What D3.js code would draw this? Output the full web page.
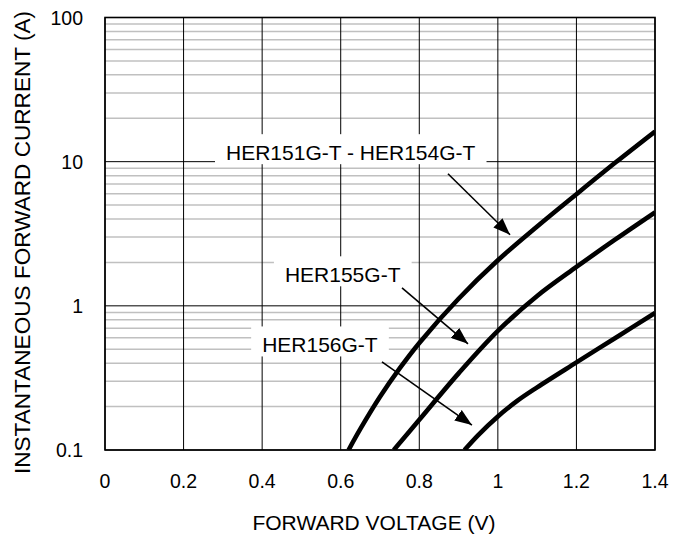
<!DOCTYPE html>
<html>
<head><meta charset="utf-8"/>
<script src="https://d3js.org/d3.v7.min.js"></script>
<style>
body{margin:0;background:#fff;}
svg{font-family:"Liberation Sans", Arial, sans-serif;}
.minor{stroke:#c0c0c0;stroke-width:1.5;}
.major{stroke:#000;stroke-width:1;}
.curve{fill:none;stroke:#000;stroke-width:4.6;}
.arrow{stroke:#000;stroke-width:1.6;}
</style>
</head>
<body>
<div id="chart"></div>
<script>

// curves (volts, amps)
var seriesNames = ["HER151G-T - HER154G-T", "HER155G-T", "HER156G-T"];
var voltsA = [0.62, 0.65, 0.70, 0.75, 0.80, 0.90, 1.00, 1.10, 1.20, 1.30, 1.40];
var ampsA  = [0.1, 0.14, 0.234, 0.368, 0.553, 1.12, 2.07, 3.55, 5.95, 9.9, 16.2];
var voltsB = [0.735, 0.80, 0.90, 1.00, 1.10, 1.20, 1.30, 1.40];
var ampsB  = [0.1, 0.162, 0.34, 0.67, 1.17, 1.86, 2.9, 4.45];
var voltsC = [0.915, 0.95, 1.00, 1.05, 1.10, 1.20, 1.30, 1.40];
var ampsC  = [0.1, 0.127, 0.171, 0.22, 0.272, 0.405, 0.601, 0.893];

var xTicks = [0, 0.2, 0.4, 0.6, 0.8, 1, 1.2, 1.4];
var xTickLabels = ["0", "0.2", "0.4", "0.6", "0.8", "1", "1.2", "1.4"];
var yTicks = [0.1, 1, 10, 100];
var yTickLabels = ["0.1", "1", "10", "100"];

// annotation anchors in data units
var labelV = [0.308, 0.458, 0.40];
var labelA = [10.24, 1.456, 0.475];
var arrowFromV = [0.873, 0.756, 0.705];
var arrowFromA = [8.25, 1.33, 0.408];
var arrowToV = [1.031, 0.924, 0.934];
var arrowToA = [3.11, 0.545, 0.149];

var margin = {top: 17.5, left: 105, right: 31, bottom: 87},
    width = 686 - margin.left - margin.right,
    height = 537 - margin.top - margin.bottom;

var svg = d3.select("#chart").append("svg")
    .attr("width", 686)
    .attr("height", 537);

var defs = svg.append("defs");
defs.append("clipPath").attr("id", "clip")
  .append("rect").attr("width", width).attr("height", height);
defs.append("marker")
    .attr("id", "head")
    .attr("markerUnits", "userSpaceOnUse")
    .attr("viewBox", "0 0 17 13")
    .attr("refX", 17).attr("refY", 6.5)
    .attr("markerWidth", 17).attr("markerHeight", 13)
    .attr("orient", "auto")
  .append("path").attr("d", "M0,0 L17,6.5 L0,13 Z").attr("fill", "#000");

var g = svg.append("g")
    .attr("transform", "translate(" + margin.left + "," + margin.top + ")");

var x = d3.scaleLinear().domain([0, 1.4]).range([0, width]);
var y = d3.scaleLog().domain([0.1, 100]).range([height, 0]);

// minor horizontal grid
var minor = [];
yTicks.slice(0, 3).forEach(function(d) {
    for (var k = 2; k <= 9; k++) minor.push(d * k);
});
g.selectAll(".minor").data(minor).enter().append("line")
    .attr("class", "minor")
    .attr("x1", 0).attr("x2", width)
    .attr("y1", function(d) { return y(d); })
    .attr("y2", function(d) { return y(d); });

// major grid
g.selectAll(".hmaj").data(yTicks).enter().append("line")
    .attr("class", "major")
    .attr("x1", 0).attr("x2", width)
    .attr("y1", function(d) { return y(d); })
    .attr("y2", function(d) { return y(d); });
g.selectAll(".vmaj").data(xTicks).enter().append("line")
    .attr("class", "major")
    .attr("y1", 0).attr("y2", height)
    .attr("x1", function(d) { return x(d); })
    .attr("x2", function(d) { return x(d); });

g.append("rect")
    .attr("width", width).attr("height", height)
    .attr("fill", "none").attr("stroke", "#000").attr("stroke-width", 1.6);

// tick labels
g.selectAll(".xt").data(xTicks).enter().append("text")
    .attr("x", function(d) { return x(d); })
    .attr("y", height + 38)
    .attr("text-anchor", "middle")
    .style("font-size", "19.5px")
    .text(function(d, i) { return xTickLabels[i]; });
g.selectAll(".yt").data(yTicks).enter().append("text")
    .attr("x", -22)
    .attr("y", function(d) { return y(d) + 7; })
    .attr("text-anchor", "end")
    .style("font-size", "19.5px")
    .text(function(d, i) { return yTickLabels[i]; });

// axis titles
g.append("text")
    .attr("x", width / 2 - 6)
    .attr("y", height + 80)
    .attr("text-anchor", "middle")
    .style("font-size", "21px")
    .text("FORWARD VOLTAGE (V)");
g.append("text")
    .attr("transform", "translate(" + (30 - margin.left) + "," + (242.5 - margin.top) + ") rotate(-90)")
    .attr("text-anchor", "middle")
    .style("font-size", "22.6px")
    .text("INSTANTANEOUS FORWARD CURRENT (A)");

// curves
var line = d3.line()
    .x(function(d) { return x(d[0]); })
    .y(function(d) { return y(d[1]); })
    .curve(d3.curveCatmullRom);

var curves = [d3.zip(voltsA, ampsA), d3.zip(voltsB, ampsB), d3.zip(voltsC, ampsC)];
g.append("g").attr("clip-path", "url(#clip)")
  .selectAll(".curve").data(curves).enter().append("path")
    .attr("class", "curve")
    .attr("d", line);

// labels with white boxes
seriesNames.forEach(function(name, i) {
    var lg = g.append("g");
    var t = lg.append("text")
        .attr("x", x(labelV[i]))
        .attr("y", y(labelA[i]))
        .style("font-size", "21px")
        .text(name);
    var b = t.node().getBBox();
    lg.insert("rect", "text")
        .attr("x", b.x - 11).attr("y", b.y - 7)
        .attr("width", b.width + 22).attr("height", b.height + 7)
        .attr("fill", "#fff");
});

// arrows
g.selectAll(".arrow").data(seriesNames).enter().append("line")
    .attr("class", "arrow")
    .attr("x1", function(d, i) { return x(arrowFromV[i]); })
    .attr("y1", function(d, i) { return y(arrowFromA[i]); })
    .attr("x2", function(d, i) { return x(arrowToV[i]); })
    .attr("y2", function(d, i) { return y(arrowToA[i]); })
    .attr("marker-end", "url(#head)");

</script>
</body>
</html>
